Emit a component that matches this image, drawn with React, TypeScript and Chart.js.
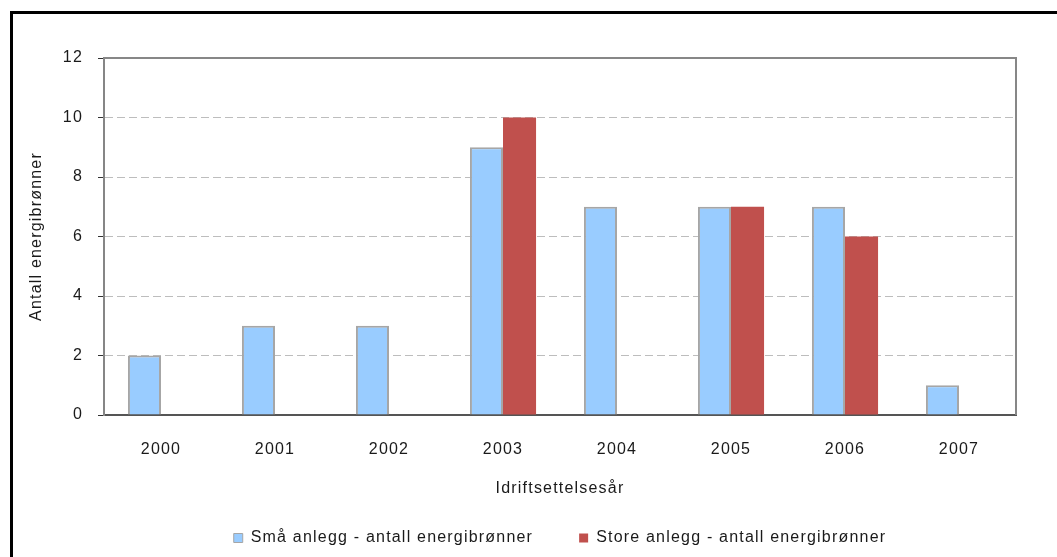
import React, { useEffect, useRef } from "react";
import { Chart, registerables } from "chart.js";

Chart.register(...registerables);

const categories = ["2000", "2001", "2002", "2003", "2004", "2005", "2006", "2007"];
const smallPlants = [2, 3, 3, 9, 7, 7, 7, 1];
const largePlants: (number | null)[] = [null, null, null, 10, null, 7, 6, null];
const seriesLabels = ["Små anlegg - antall energibrønner", "Store anlegg - antall energibrønner"];
const yTitle = "Antall energibrønner";
const xTitle = "Idriftsettelsesår";
const yMin = 0;
const yMax = 12;
const yStep = 2;

const FONT = "'Liberation Sans', Arial, sans-serif";
const SIZE = 16;
const TEXT = "#1a1a1a";
const SPACING = "1.2px";

const spacingPlugin = {
  id: "letterSpacing",
  beforeUpdate(chart: any) {
    chart.ctx.letterSpacing = SPACING;
  },
  beforeDraw(chart: any) {
    chart.ctx.letterSpacing = SPACING;
  },
};

const framePlugin = {
  id: "plotFrame",
  afterDraw(chart: any) {
    const { ctx, chartArea } = chart;
    ctx.save();
    ctx.strokeStyle = "#878787";
    ctx.lineWidth = 2;
    ctx.beginPath();
    ctx.moveTo(chartArea.left, chartArea.top);
    ctx.lineTo(chartArea.right, chartArea.top);
    ctx.lineTo(chartArea.right, chartArea.bottom);
    ctx.stroke();
    ctx.restore();
  },
};

export default function App() {
  const ref = useRef<HTMLCanvasElement | null>(null);

  useEffect(() => {
    if (!ref.current) return;
    const chart = new Chart(ref.current, {
      type: "bar",
      data: {
        labels: categories,
        datasets: [
          {
            label: seriesLabels[0],
            data: smallPlants,
            backgroundColor: "#99CCFF",
            borderColor: "#A6A6A6",
            borderWidth: 2,
            categoryPercentage: 0.58,
            barPercentage: 1,
          },
          {
            label: seriesLabels[1],
            data: largePlants,
            backgroundColor: "#C0504D",
            borderColor: "#C0504D",
            borderWidth: 0,
            categoryPercentage: 0.58,
            barPercentage: 1,
          },
        ],
      },
      options: {
        responsive: false,
        animation: false,
        maintainAspectRatio: false,
        layout: { padding: { left: 25, right: 41, top: 58, bottom: 1 } },
        color: TEXT,
        plugins: {
          tooltip: { enabled: false },
          legend: {
            position: "bottom",
            fullSize: false,
            labels: {
              color: TEXT,
              font: { family: FONT, size: SIZE },
              boxWidth: 9,
              boxHeight: 9,
              padding: 46,
              generateLabels: (c: any) =>
                (Chart.defaults.plugins.legend.labels as any)
                  .generateLabels(c)
                  .map((l: any) => ({ ...l, lineWidth: l.lineWidth ? 1 : 0 })),
            },
          },
        },
        scales: {
          x: {
            grid: { display: false, drawTicks: false },
            border: { display: true, color: "#555555", width: 2 },
            ticks: {
              color: TEXT,
              font: { family: FONT, size: SIZE },
              padding: 25,
              maxRotation: 0,
              autoSkip: false,
            },
            title: {
              display: true,
              text: xTitle,
              color: TEXT,
              font: { family: FONT, size: SIZE },
              padding: { top: 0, bottom: -14 },
            },
            afterFit: (s: any) => {
              s.height = 69;
            },
          },
          y: {
            min: yMin,
            max: yMax,
            ticks: {
              stepSize: yStep,
              color: TEXT,
              font: { family: FONT, size: SIZE },
              padding: 15,
            },
            grid: {
              color: "#BDBDBD",
              lineWidth: 1,
              drawTicks: true,
              tickLength: 6,
              tickColor: "#333333",
              tickWidth: 1,
            },
            border: { display: true, color: "#868686", width: 2, dash: [8, 4] },
            title: {
              display: true,
              text: yTitle,
              color: TEXT,
              font: { family: FONT, size: SIZE },
              padding: { top: 2, bottom: 0 },
            },
            afterFit: (s: any) => {
              s.width = 79;
            },
          },
        },
      },
      plugins: [spacingPlugin, framePlugin],
    });
    return () => chart.destroy();
  }, []);

  return (
    <div style={{ position: "fixed", inset: 0, overflow: "hidden", background: "#fff" }}>
      <div
        style={{
          position: "absolute",
          left: 10,
          top: 11,
          width: 1200,
          height: 700,
          border: "3px solid #000",
        }}
      />
      <canvas
        ref={ref}
        width={1057}
        height={557}
        style={{ position: "absolute", left: 0, top: 0, width: 1057, height: 557 }}
      />
    </div>
  );
}
